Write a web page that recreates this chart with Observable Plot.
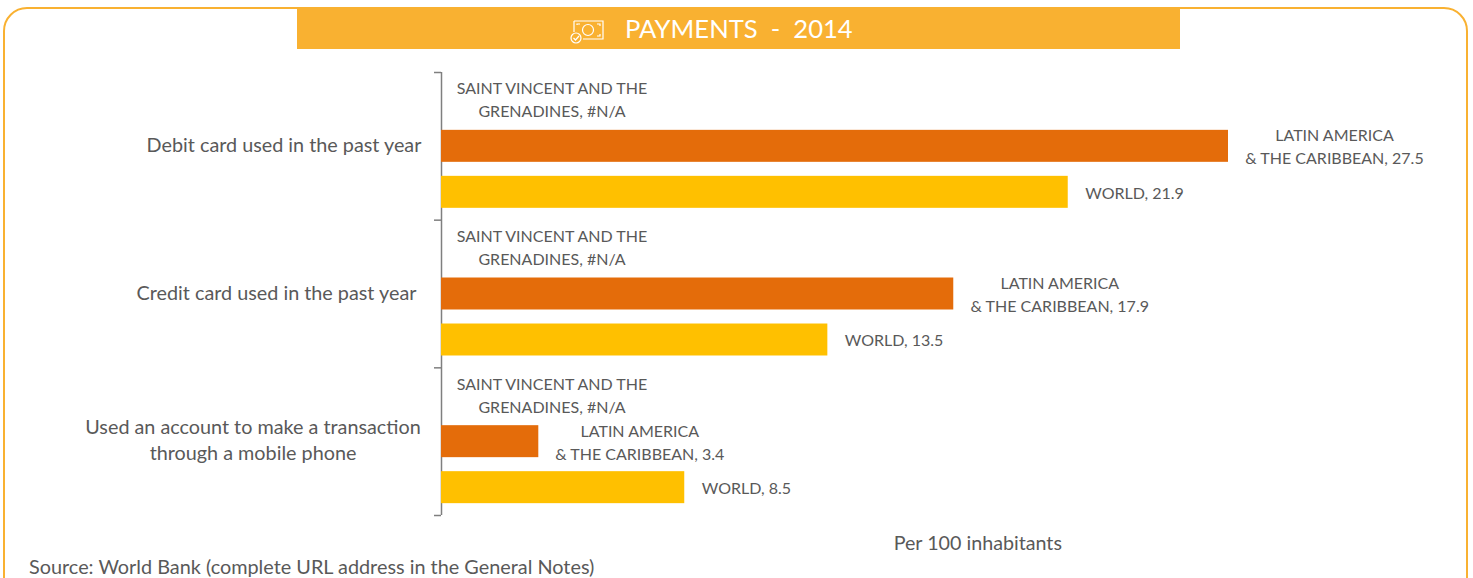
<!DOCTYPE html>
<html>
<head>
<meta charset="utf-8">
<script src="https://cdn.jsdelivr.net/npm/d3@7"></script>
<script src="https://cdn.jsdelivr.net/npm/@observablehq/plot@0.6"></script>
<style>
html,body{margin:0;padding:0;background:#fff;overflow:hidden}
#page{position:relative;width:1473px;height:578px;overflow:hidden;font-family:Lato,sans-serif;color:#595959}
#card{position:absolute;left:3px;top:7px;width:1461px;height:600px;border:2px solid #F9B131;border-radius:24px;box-sizing:content-box}
#banner{position:absolute;left:297px;top:9px;width:883px;height:40px;background:#F9B131;color:#fff;font-size:25.6px;line-height:38px}
#banner svg{position:absolute;left:272px;top:10px}
#banner span{position:absolute;left:328px;top:0;white-space:pre}
#chart{position:absolute;left:0;top:0}
#source{position:absolute;left:29px;top:556px;font-size:19.85px;line-height:21px;white-space:nowrap}
</style>
</head>
<body>
<div id="page">
  <div id="card"></div>
  <div id="chart"></div>
  <div id="banner">
    <svg width="36" height="26" viewBox="0 0 36 26" fill="none" stroke="#fff" stroke-width="1.2">
      <path d="M5 2H34V20H14"/><path d="M5 2V13"/><circle cx="19" cy="11" r="5.5"/>
      <path d="M8 6V5H11M28 5H31V7M31 15V17H28"/>
      <circle cx="7" cy="19" r="5"/><path d="M4.5 19l2 2 3.5-4"/>
    </svg>
    <span id="title"></span>
  </div>
  <div id="source"></div>
</div>
<script>
const titleText = "PAYMENTS  -  2014";
const sourceText = "Source: World Bank (complete URL address in the General Notes)";
const unitText = "Per 100 inhabitants";
const categories = ["Debit card used in the past year", "Credit card used in the past year", "Used an account to make a transaction\nthrough a mobile phone"];
const seriesNames = ["SAINT VINCENT AND THE\nGRENADINES", "LATIN AMERICA\n& THE CARIBBEAN", "WORLD"];
const saintVincent = [null, null, null];
const latinAmerica = [27.5, 17.9, 3.4];
const world = [21.9, 13.5, 8.5];

const seriesValues = [saintVincent, latinAmerica, world];
const rows = categories.flatMap((category, c) => seriesNames.map((name, s) => ({
  category, c, s, name, value: seriesValues[s][c],
  label: `${name}, ${seriesValues[s][c] ?? "#N/A"}`
})));

const rowStep = 0.3115, barHalf = 0.1083;
const rowY = d => d.c + 0.5 + (d.s - 1) * rowStep;
const font = {fontFamily: "Lato, sans-serif"};
const labelStyle = {...font, fill: "#595959", fontSize: 16, lineHeight: 1.44, x: d => d.value ?? 0, y: rowY, text: "label"};
const catStyle = {...font, fill: "#595959", fontSize: 19.8, lineHeight: 1.34, x: () => 0, y: d => d.c + 0.5, text: "category", dy: -3};

const chart = Plot.plot({
  width: 1473, height: 578,
  marginLeft: 441, marginRight: 245, marginTop: 72, marginBottom: 63,
  style: {background: "transparent", overflow: "visible"},
  x: {domain: [0, 27.5], axis: null},
  y: {domain: [0, 3], reverse: true, axis: null},
  color: {domain: [1, 2], range: ["#E46C0A", "#FFC000"]},
  marks: [
    Plot.ruleX([0], {stroke: "#7f7f7f", strokeWidth: 1.5}),
    Plot.axisY({ticks: [0, 1, 2, 3], tickFormat: () => "", tickSize: 7, stroke: "#7f7f7f", strokeWidth: 1.5, label: null}),
    Plot.rect(rows.filter(d => d.value != null), {x1: () => 0, x2: "value", y1: d => rowY(d) - barHalf, y2: d => rowY(d) + barHalf, fill: "s"}),
    Plot.text(rows.filter(d => d.s === 0), {...labelStyle, dx: 110.5, dy: -2}),
    Plot.text(rows.filter(d => d.s === 1 && d.value >= 10), {...labelStyle, dx: 106, dy: -1}),
    Plot.text(rows.filter(d => d.s === 1 && d.value < 10), {...labelStyle, dx: 101, dy: -1}),
    Plot.text(rows.filter(d => d.s === 2), {...labelStyle, textAnchor: "start", dx: 17, dy: -1}),
    Plot.text(rows.filter(d => d.c === 0 && d.s === 0), {...catStyle, dx: -157.5}),
    Plot.text(rows.filter(d => d.c === 1 && d.s === 0), {...catStyle, dx: -165}),
    Plot.text(rows.filter(d => d.c === 2 && d.s === 0), {...catStyle, dx: -188.5}),
    Plot.text([unitText], {...font, fill: "#595959", fontSize: 19.7, x: () => 18.74, y: () => 3.19})
  ]
});
document.getElementById("chart").append(chart);
document.getElementById("title").textContent = titleText;
document.getElementById("source").textContent = sourceText;
</script>
</body>
</html>
